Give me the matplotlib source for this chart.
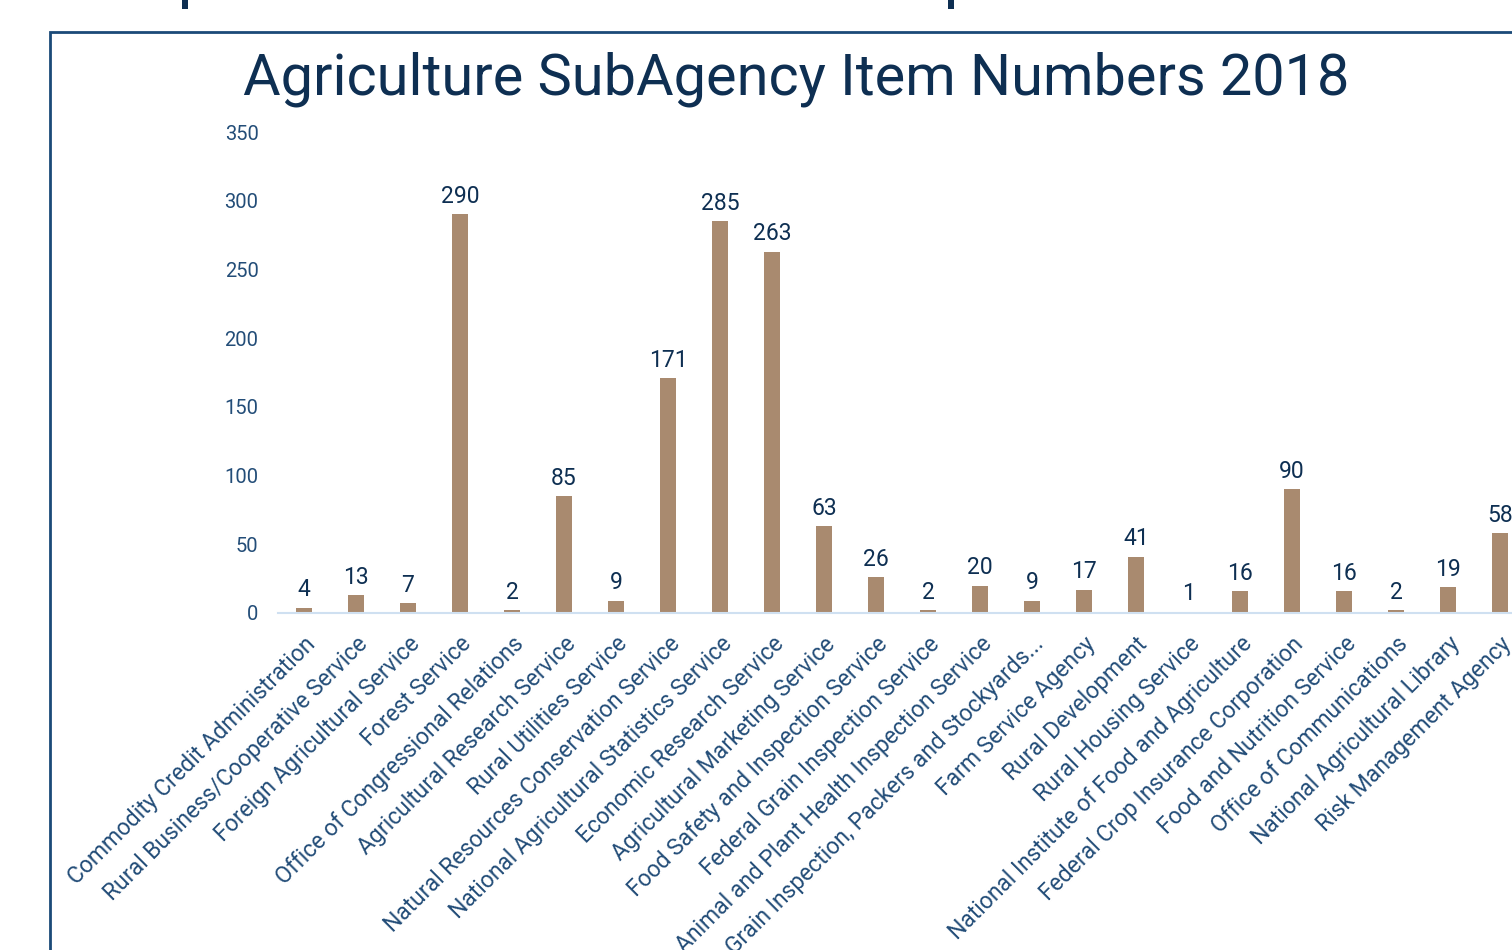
import matplotlib
matplotlib.use("Agg")
import matplotlib.pyplot as plt
from matplotlib.patches import Rectangle

plt.rcParams['font.family'] = ['Roboto', 'DejaVu Sans']

agencies = [
    "Commodity Credit Administration",
    "Rural Business/Cooperative Service",
    "Foreign Agricultural Service",
    "Forest Service",
    "Office of Congressional Relations",
    "Agricultural Research Service",
    "Rural Utilities Service",
    "Natural Resources Conservation Service",
    "National Agricultural Statistics Service",
    "Economic Research Service",
    "Agricultural Marketing Service",
    "Food Safety and Inspection Service",
    "Federal Grain Inspection Service",
    "Animal and Plant Health Inspection Service",
    "Grain Inspection, Packers and Stockyards...",
    "Farm Service Agency",
    "Rural Development",
    "Rural Housing Service",
    "National Institute of Food and Agriculture",
    "Federal Crop Insurance Corporation",
    "Food and Nutrition Service",
    "Office of Communications",
    "National Agricultural Library",
    "Risk Management Agency",
]
item_counts = [4, 13, 7, 290, 2, 85, 9, 171, 285, 263, 63, 26, 2, 20, 9, 17, 41, 1, 16, 90, 16, 2, 19, 58]
y_ticks = [0, 50, 100, 150, 200, 250, 300, 350]

bar_color = "#a98a6f"
navy = "#0e2f52"
tick_color = "#234d78"

W, H = 1512, 950
fig = plt.figure(figsize=(W / 100, H / 100), dpi=100)

# page frame the chart sits in (cut off at right / bottom in the screenshot)
fig.patches.append(Rectangle((50 / W, -0.1), 1.2, (950 - 32) / H + 0.1,
                             transform=fig.transFigure, fill=False,
                             edgecolor="#1b4a78", linewidth=2.0))
# bits of the heading above, cropped off
for px in (185, 951):
    fig.patches.append(Rectangle(((px - 3) / W, 1 - 9 / H), 6 / W, 9 / H,
                                 transform=fig.transFigure, color=navy, lw=0))

n = len(agencies)
step = 52
left = 278
ax = fig.add_axes([left / W, (H - 613) / H, n * step / W, 481 / H])
x = list(range(n))
ax.bar(x, item_counts, width=0.32, color=bar_color, zorder=2)
ax.set_xlim(-0.5, n - 0.5)
ax.set_ylim(0, 350)
ax.set_yticks(y_ticks)
ax.tick_params(axis='y', length=0, pad=14, labelsize=14.5, labelcolor=tick_color)
ax.set_xticks(x)
ax.set_xticklabels(agencies, rotation=45, ha='right', va='top',
                   rotation_mode='anchor', fontsize=16.5, color=tick_color)
ax.tick_params(axis='x', length=0, pad=14)
for s in ('top', 'right', 'left'):
    ax.spines[s].set_visible(False)
ax.spines['bottom'].set_color("#cfe0f1")
ax.spines['bottom'].set_linewidth(1.5)

for xi, v in zip(x, item_counts):
    ax.annotate(str(v), (xi, v), xytext=(0, 4.5), textcoords='offset points',
                ha='center', va='bottom', fontsize=16.5, color=navy,
                annotation_clip=False)

fig.text(796 / W, 1 - 79 / H, "Agriculture SubAgency Item Numbers 2018",
         ha='center', va='center', fontsize=41.5, color=navy)

fig.savefig("out.png", dpi=100)
